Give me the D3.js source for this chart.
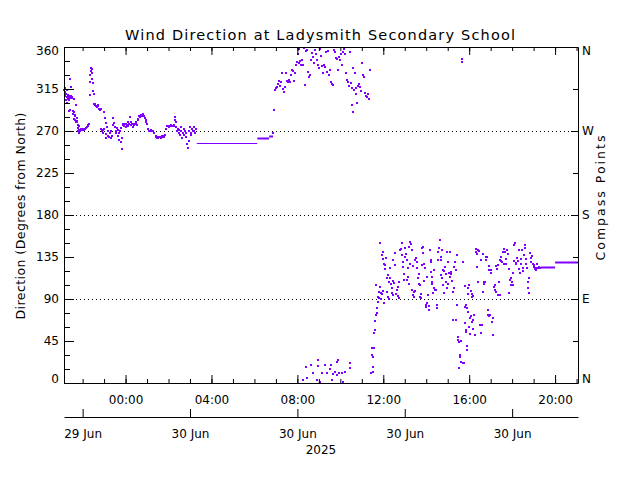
<!DOCTYPE html>
<html><head><meta charset="utf-8">
<script src="https://cdn.jsdelivr.net/npm/d3@7"></script>
<style>body{margin:0;background:#fff}svg{display:block}</style>
</head><body>
<svg id="c" width="640" height="480"></svg>
<script>
const chartTitle = "Wind Direction at Ladysmith Secondary School";
const yTitle = "Direction (Degrees from North)";
const y2Title = "Compass Points";
const yearLabel = "2025";
const windowStart = "2025-06-29T21:08:00Z";
const windowEnd = "2025-06-30T21:04:00Z";
const degreeTicks = [0, 45, 90, 135, 180, 225, 270, 315, 360];
const degreeMinorTicks = [15, 30, 60, 75, 105, 120, 150, 165, 195, 210, 240, 255, 285, 300, 330, 345];
const compassTicks = [0, 90, 180, 270, 360];
const compassLabels = ["N", "E", "S", "W", "N"];
const compassMinorTicks = [45, 135, 225, 315];
const gridDegrees = [90, 180, 270];
const dateTicks = ["2025-06-29T22:00:00Z", "2025-06-30T03:00:00Z", "2025-06-30T08:00:00Z", "2025-06-30T13:00:00Z", "2025-06-30T18:00:00Z"];

// observations: [minutes after 2025-06-30 00:00, direction in degrees]
const eveningObs = [[-171,314],[-170,316],[-169,312],[-168,308],[-167,303],[-166,310],[-165,306],[-164,314],[-163,300],[-162,304],[-161,309],[-160,306],[-159,307],[-158,303],[-157,291],[-156,293],[-155,326],[-154,305],[-153,308],[-152,317],[-151,306],[-150,305],[-149,306],[-147,288],[-146,291],[-145,290],[-144,283],[-143,304],[-142,286],[-141,282],[-140,287],[-139,280],[-138,298],[-137,284],[-136,281],[-135,280],[-134,276],[-133,273],[-132,270],[-131,268],[-130,275],[-129,271],[-128,270],[-126,271],[-124,272],[-122,271],[-120,271],[-118,272],[-116,271],[-114,272],[-112,272],[-110,273],[-108,274],[-106,275],[-104,276],[-102,277],[-100,309],[-99,322],[-98,330],[-97,334],[-96,338],[-95,336],[-94,332],[-93,326],[-92,321],[-90,313],[-89,310],[-88,299],[-86,298],[-84,299],[-82,297],[-80,296],[-78,298],[-76,297],[-74,294],[-72,293],[-70,294],[-68,272],[-66,270],[-64,271],[-62,268],[-60,272],[-59,290],[-58,284],[-56,279],[-55,262],[-54,267],[-52,274],[-50,270],[-48,265],[-46,264],[-44,268],[-42,263],[-40,270],[-38,265],[-36,276],[-34,284],[-32,279],[-30,274],[-28,270],[-26,268],[-24,273],[-22,271],[-20,265],[-18,260],[-17,268],[-16,270],[-14,273],[-12,258],[-11,251],[-10,262],[-8,276],[-6,278],[-4,275],[-2,277]];
const nightObs = [[0,274],[2,278],[4,276],[6,280],[8,275],[10,278],[12,285],[14,280],[16,276],[18,278],[20,274],[22,277],[24,276],[26,278],[28,277],[30,280],[32,276],[34,282],[36,283],[38,286],[40,285],[42,287],[44,286],[46,287],[48,288],[50,286],[52,286],[54,284],[56,282],[58,280],[60,278],[64,272],[66,270],[68,270],[70,271],[72,270],[76,270],[80,268],[84,265],[86,264],[88,263],[90,264],[92,263],[94,264],[96,264],[98,263],[100,264],[102,265],[104,264],[106,265],[108,264],[110,266],[114,272],[116,275],[118,275],[120,275],[122,274],[124,275],[126,275],[128,276],[130,275],[132,275],[134,275],[136,276],[138,282],[139,285],[140,280],[142,274],[144,270],[146,272],[148,268],[150,271],[152,266],[154,274],[156,270],[158,262],[160,268],[162,272],[164,266],[166,270],[168,268],[170,264],[172,256],[174,252],[176,259],[178,270],[180,274],[182,266],[184,268],[186,272],[188,270],[190,274],[192,270],[194,268],[196,272]];
const morningObs = [[412,268],[415,292],[418,314],[420,316],[423,317],[426,320],[429,324],[432,318],[434,322],[437,332],[440,315],[443,312],[446,317],[448,332],[451,324],[454,322],[457,325],[460,323],[463,330],[465,335],[468,334],[471,324],[474,332],[476,341],[479,344],[482,352],[484,358],[485,343],[488,345],[490,341],[493,346],[496,341],[499,359],[501,319],[504,356],[507,357],[510,333],[512,328],[515,330],[518,346],[521,354],[524,349],[527,343],[529,357],[532,352],[535,346],[538,341],[541,338],[543,358],[546,350],[549,340],[552,332],[555,341],[557,339],[560,355],[563,333],[566,356],[568,330],[571,335],[574,322],[577,320],[579,319],[582,357],[585,355],[588,348],[591,347],[594,335],[597,349],[599,346],[602,352],[605,341],[608,355],[610,358],[613,353],[616,332],[619,325],[622,322],[625,318],[627,355],[630,321],[633,316],[634,298],[635,290],[636,337],[638,314],[641,332],[643,310],[645,316],[647,300],[650,318],[652,320],[655,317],[658,313],[661,343],[664,330],[666,328],[669,311],[672,308],[675,306],[678,310],[681,304],[683,335],
[496,3],[503,17],[517,19],[523,11],[507,5],[537,18],[538,25],[535,3],[543,1],[549,11],[557,19],[563,11],[573,19],[571,15],[577,3],[580,10],[585,12],[590,9],[595,11],[591,22],[594,25],[605,11],[608,1],[613,12],[627,21],[627,16],
[686,11],[688,38],[689,30],[690,17],[691,12],[692,28],[693,38],[694,54],[696,57],[697,66],[699,105],[700,73],[702,75],[703,80],[705,87],[706,92],[708,97],[709,91]];
const middayObs = [[711,150],[712,103],[713,96],[714,90],[716,137],[717,95],[718,99],[719,133],[720,140],[722,128],[723,86],[725,126],[726,122],[728,134],[730,112],[731,97],[733,116],[734,92],[736,90],[737,108],[739,123],[740,113],[742,106],[743,96],[745,102],[746,109],[747,132],[748,94],[750,107],[753,126],[754,139],[756,95],[759,100],[760,93],[761,103],[763,91],[765,108],[767,142],[769,144],[771,137],[773,150],[774,130],[775,124],[777,110],[779,117],[781,145],[782,135],[784,138],[786,132],[787,110],[788,123],[789,114],[791,106],[793,146],[795,151],[796,128],[798,149],[800,142],[801,100],[802,125],[803,94],[805,92],[806,97],[808,99],[809,132],[811,134],[814,123],[815,130],[817,112],[819,117],[820,106],[822,105],[823,92],[825,95],[826,91],[828,145],[829,126],[831,139],[832,146],[834,109],[835,128],[837,123],[838,84],[840,81],[842,114],[843,86],[845,94],[847,78],[849,82],[851,142],[852,130],[853,132],[854,119],[855,106],[856,108],[857,114],[859,96],[861,121],[863,102],[865,100],[868,100],[869,84],[870,80],[873,140],[874,132],[876,145],[879,153],[880,135],[881,116],[882,132],[884,112],[885,143],[887,121],[888,105],[889,96],[891,120],[893,124],[894,117],[896,108],[897,102],[898,140],[900,106],[901,130],[903,118],[905,140],[907,114],[908,117],[910,119],[912,109],[914,97],[915,67],[917,102],[918,124],[921,130]];
const afternoonObs = [[922,121],[923,67],[925,84],[926,137],[928,49],[929,46],[931,44],[932,16],[934,30],[935,28],[936,45],[938,23],[940,344],[941,347],[942,21],[943,130],[946,21],[947,81],[948,64],[949,104],[950,84],[951,57],[952,55],[953,40],[954,35],[955,80],[956,76],[957,102],[958,95],[959,60],[960,105],[962,53],[963,70],[965,99],[966,72],[967,92],[968,95],[969,65],[970,93],[971,67],[972,58],[974,73],[976,51],[978,140],[980,144],[982,124],[983,138],[985,108],[986,143],[988,141],[990,62],[992,54],[994,132],[996,62],[998,97],[999,138],[1000,108],[1002,106],[1004,108],[1006,135],[1008,132],[1010,135],[1012,78],[1013,73],[1014,125],[1015,72],[1016,121],[1018,73],[1020,118],[1022,121],[1024,65],[1026,70],[1027,51],[1029,103],[1031,100],[1032,105],[1034,97],[1036,125],[1038,122],[1040,94],[1041,126],[1043,108],[1045,132],[1046,94],[1048,135],[1050,131],[1052,130],[1054,140],[1056,128],[1058,144],[1060,140],[1062,133],[1064,127],[1066,142],[1068,138],[1070,122],[1072,96],[1074,110],[1076,112],[1078,105],[1080,108],[1082,118],[1083,105],[1085,148],[1086,131],[1088,150],[1090,127],[1092,129],[1094,134],[1096,131],[1098,142],[1100,122],[1102,118],[1104,127],[1106,133],[1108,142],[1110,123],[1111,120],[1113,137],[1115,148],[1116,145],[1118,133],[1120,127],[1122,123],[1124,108],[1125,102],[1126,112],[1128,96],[1130,139],[1132,134],[1134,130],[1136,136],[1138,128],[1140,124],[1142,126],[1144,122],[1146,121],[1148,123],[1150,128],[1152,123],[1155,124],[1158,123]];
// steady readings: [start minute, end minute, direction]
const steadyRuns = [[199,368,257],[368,401,263],[401,412,265],[1160,1200,124],[1200,1264,130]];

const FONT = "'DejaVu Sans', sans-serif";
const COLOR = "#7f00ff";
const svg = d3.select("#c");
const L = 64, R = 578, T = 47, B = 383;
const base = Date.UTC(2025, 5, 30);
const tm = m => new Date(base + m * 60000);
const x = d3.scaleUtc().domain([new Date(windowStart), new Date(windowEnd)]).range([L, R]);
const y = d3.scaleLinear().domain([0, 360]).range([B, T]);

function styleAxis(g, size) {
  g.attr("font-family", FONT).attr("font-size", size);
  g.selectAll("path.domain").attr("stroke", "#000");
  g.selectAll("line").attr("stroke", "#000");
  g.selectAll("text").attr("fill", "#000");
}
// end labels sit slightly inside the axis range, as in the original plot
const nudgeEnds = g => g.selectAll(".tick text")
  .attr("transform", d => d === 360 ? "translate(0,4)" : d === 0 ? "translate(0,-4)" : null);

// grid
svg.append("g").selectAll("line").data(gridDegrees).join("line")
  .attr("x1", L).attr("x2", R)
  .attr("y1", d => Math.round(y(d)) + 0.5).attr("y2", d => Math.round(y(d)) + 0.5)
  .attr("stroke", "#000").attr("stroke-dasharray", "1,3");

// data
const plot = svg.append("g");
plot.selectAll("line.run").data(steadyRuns).join("line").attr("class", "run")
  .attr("x1", d => x(tm(d[0]))).attr("x2", d => x(tm(d[1])))
  .attr("y1", d => Math.round(y(d[2])) + 0.5).attr("y2", d => Math.round(y(d[2])) + 0.5)
  .attr("stroke", COLOR).attr("stroke-width", (d, i) => i === 0 ? 1 : 2);
const allObs = [].concat(eveningObs, nightObs, morningObs, middayObs, afternoonObs);
plot.selectAll("rect").data(allObs).join("rect")
  .attr("x", d => Math.round(x(tm(d[0]))) - 1)
  .attr("y", d => Math.round(y(d[1])) - 1)
  .attr("width", 2).attr("height", 2)
  .attr("fill", COLOR);

// left axis
svg.append("g").attr("transform", `translate(${L},0)`)
  .call(d3.axisLeft(y).tickValues(degreeTicks).tickSize(-10).tickSizeOuter(0).tickPadding(5).tickFormat(d3.format("d")))
  .call(g => styleAxis(g, 12)).call(nudgeEnds);
svg.append("g").attr("transform", `translate(${L},0)`)
  .call(d3.axisLeft(y).tickValues(degreeMinorTicks).tickSize(-6).tickSizeOuter(0).tickFormat(""))
  .call(g => { g.select("path.domain").remove(); styleAxis(g, 12); });

// right axis
svg.append("g").attr("transform", `translate(${R},0)`)
  .call(d3.axisRight(y).tickValues(compassTicks).tickSize(-7).tickSizeOuter(0).tickPadding(4).tickFormat((d, i) => compassLabels[i]))
  .call(g => styleAxis(g, 12)).call(nudgeEnds);
svg.append("g").attr("transform", `translate(${R},0)`)
  .call(d3.axisRight(y).tickValues(compassMinorTicks).tickSize(-5).tickSizeOuter(0).tickFormat(""))
  .call(g => { g.select("path.domain").remove(); styleAxis(g, 12); });

// bottom axis
svg.append("g").attr("transform", `translate(0,${B})`)
  .call(d3.axisBottom(x).ticks(d3.utcHour.every(4)).tickSize(-8).tickSizeOuter(0).tickPadding(12).tickFormat(d3.utcFormat("%H:%M")))
  .call(g => styleAxis(g, 12));
svg.append("g").attr("transform", `translate(0,${B})`)
  .call(d3.axisBottom(x).ticks(d3.utcHour.every(1)).tickSize(-4).tickSizeOuter(0).tickFormat(""))
  .call(g => { g.select("path.domain").remove(); styleAxis(g, 12); });

// top axis
svg.append("g").attr("transform", `translate(0,${T})`)
  .call(d3.axisTop(x).ticks(d3.utcHour.every(4)).tickSize(-8).tickSizeOuter(0).tickFormat(""))
  .call(g => styleAxis(g, 12));
svg.append("g").attr("transform", `translate(0,${T})`)
  .call(d3.axisTop(x).ticks(d3.utcHour.every(1)).tickSize(-4).tickSizeOuter(0).tickFormat(""))
  .call(g => { g.select("path.domain").remove(); styleAxis(g, 12); });

// date axis
svg.append("g").attr("transform", "translate(0,417)")
  .call(d3.axisBottom(x).tickValues(dateTicks.map(d => new Date(d))).tickSize(-8).tickSizeOuter(0).tickPadding(12).tickFormat(d3.utcFormat("%d %b")))
  .call(g => styleAxis(g, 12));

// texts
svg.append("text").attr("x", (L + R) / 2).attr("y", 454).attr("text-anchor", "middle")
  .attr("font-family", FONT).attr("font-size", 12).text(yearLabel);
svg.append("text").attr("x", 320).attr("y", 40).attr("text-anchor", "middle")
  .attr("font-family", FONT).attr("font-size", 14.5)
  .attr("textLength", 390).attr("lengthAdjust", "spacing").text(chartTitle);
svg.append("text").attr("transform", "translate(20,216) rotate(-90)").attr("text-anchor", "middle")
  .attr("dominant-baseline", "central").attr("font-family", FONT).attr("font-size", 12.5)
  .attr("textLength", 207).attr("lengthAdjust", "spacing").text(yTitle);
svg.append("text").attr("transform", "translate(600,198) rotate(-90)").attr("text-anchor", "middle")
  .attr("dominant-baseline", "central").attr("font-family", FONT).attr("font-size", 12.5)
  .attr("textLength", 125).attr("lengthAdjust", "spacing").text(y2Title);
</script>
</body></html>
